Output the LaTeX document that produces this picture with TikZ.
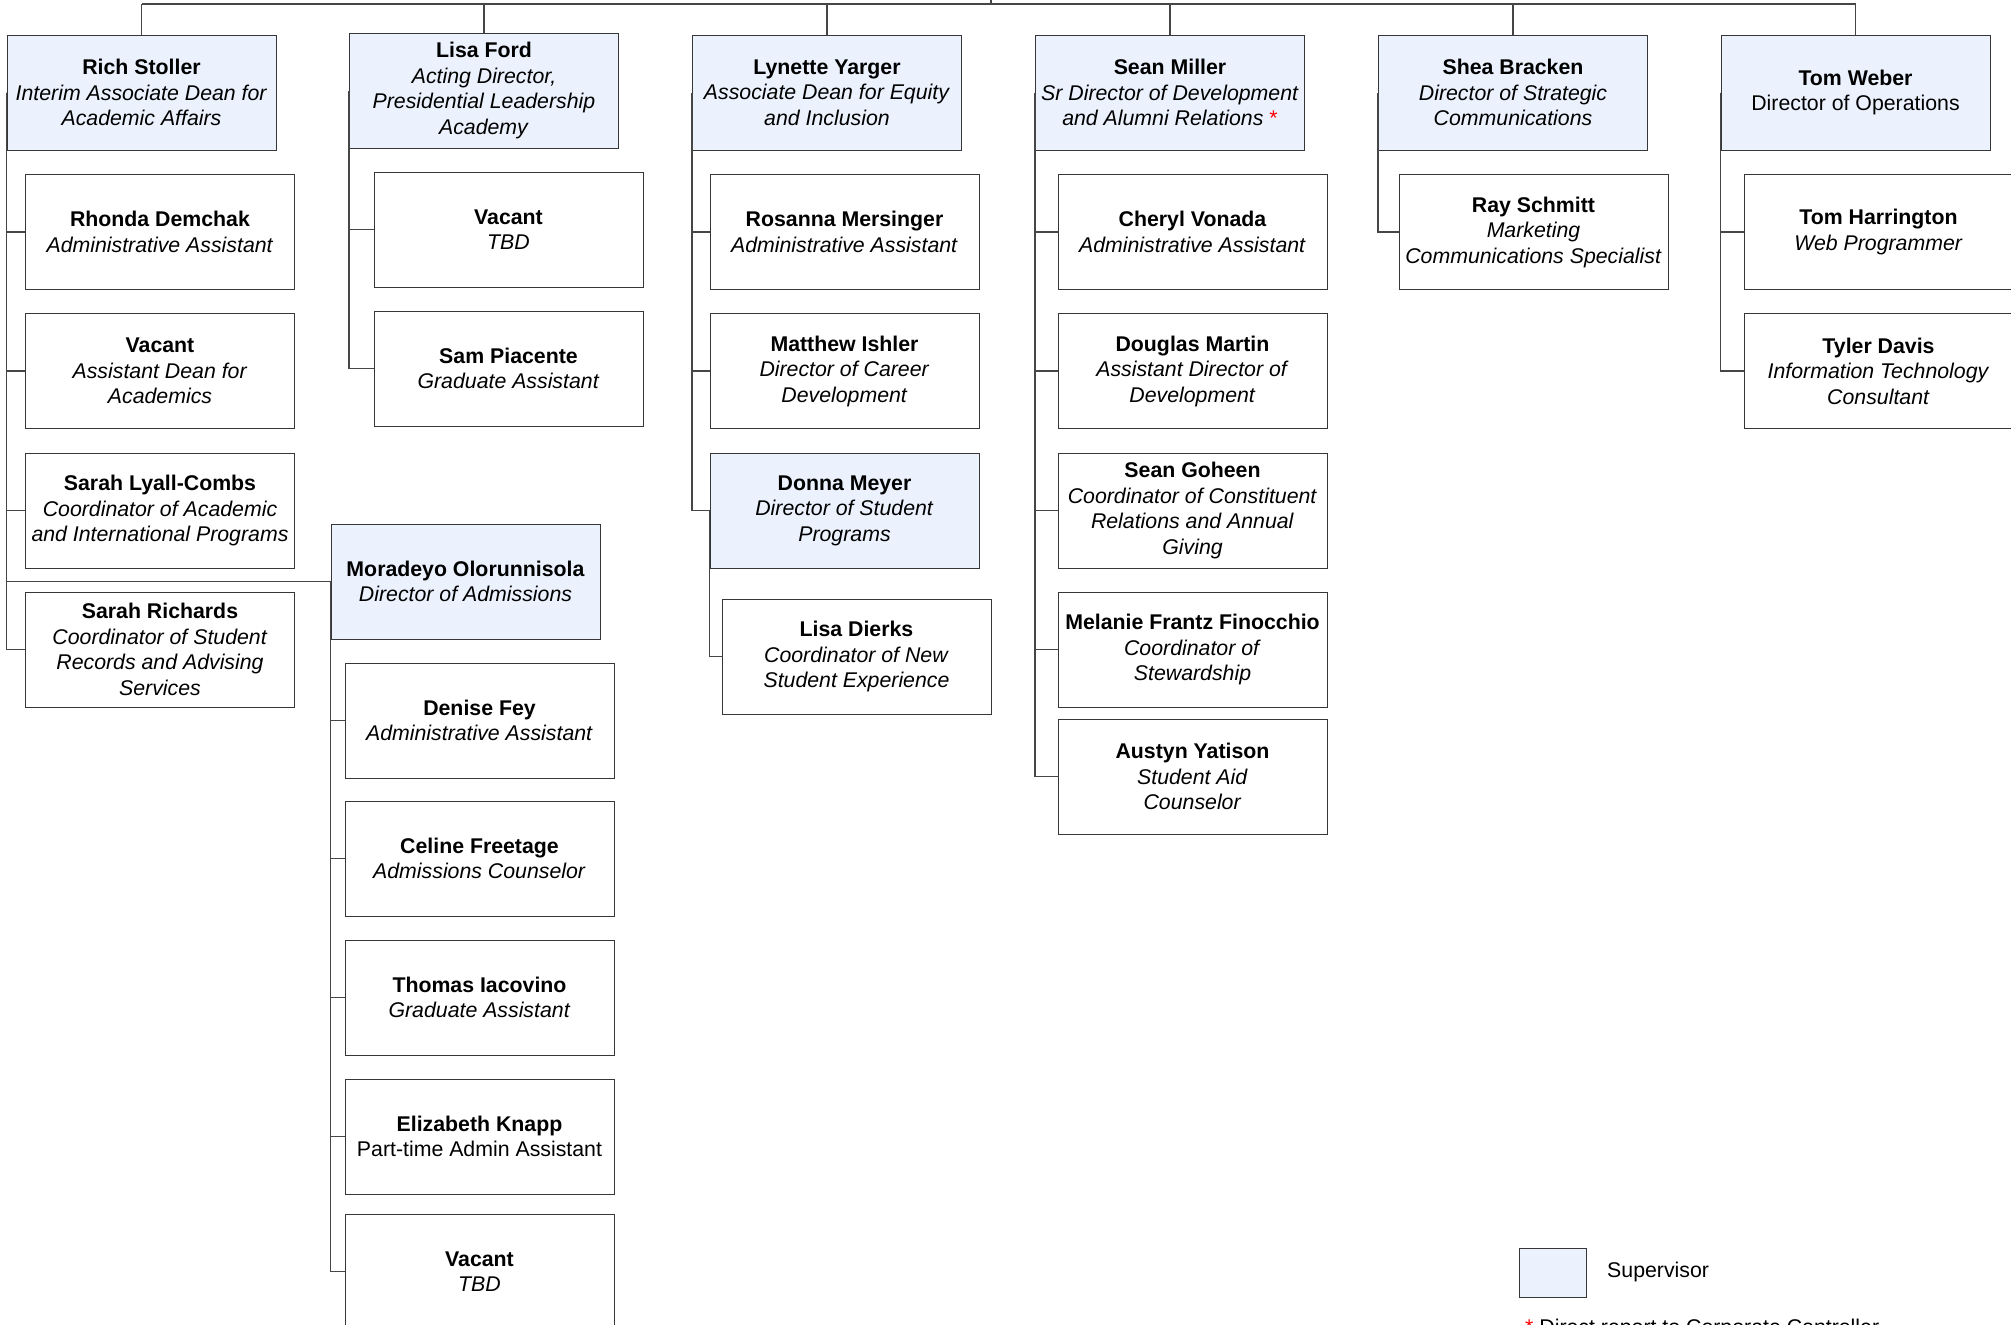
\documentclass[tikz,border=0pt]{standalone}
\usepackage{fontspec}
\setmainfont{Liberation Sans}
\definecolor{supblue}{RGB}{235,242,254}
\definecolor{boxline}{RGB}{55,55,55}
\definecolor{conn}{RGB}{70,70,70}
\begin{document}
\begin{tikzpicture}[x=1pt,y=-1pt,
  txt/.style={font=\fontsize{21.3}{25.5}\selectfont},
  person/.style={txt,draw=boxline,line width=1pt,minimum width=269pt,minimum height=115pt,inner sep=1pt,align=center,fill=white},
  sup/.style={person,fill=supblue},
  link/.style={draw=conn,line width=1.1pt}]
\clip (0,0) rectangle (2011,1325);
\fill[white] (0,0) rectangle (2011,1325);
\coordinate (bus) at (0,4);
\coordinate (root) at (991,-20);

% column 1
\node[sup] (rich) at (141.5,92.5) {\textbf{Rich Stoller}\\\textit{Interim Associate Dean for}\\\textit{Academic Affairs}};
\node[person] (rhonda) at (160,232) {\textbf{Rhonda Demchak}\\\textit{Administrative Assistant}};
\node[person] (vac1) at (160,371) {\textbf{Vacant}\\\textit{Assistant Dean for}\\\textit{Academics}};
\node[person] (slc) at (160,510.5) {\textbf{Sarah Lyall-Combs}\\\textit{Coordinator of Academic}\\\textit{and International Programs}};
\node[person] (sr) at (160,649.5) {\textbf{Sarah Richards}\\\textit{Coordinator of Student}\\\textit{Records and Advising}\\\textit{Services}};
\node[sup] (mor) at (465.5,581.5) {\textbf{Moradeyo Olorunnisola}\\\textit{Director of Admissions}};
\node[person] (denise) at (479.5,720.5) {\textbf{Denise Fey}\\\textit{Administrative Assistant}};
\node[person] (celine) at (479.5,858.5) {\textbf{Celine Freetage}\\\textit{Admissions Counselor}};
\node[person] (thomas) at (479.5,997.5) {\textbf{Thomas Iacovino}\\\textit{Graduate Assistant}};
\node[person] (eliz) at (479.5,1136.5) {\textbf{Elizabeth Knapp}\\Part-time Admin Assistant};
\node[person] (vac2) at (479.5,1271.5) {\textbf{Vacant}\\\textit{TBD}};

% column 2
\node[sup] (lisaf) at (484,90.5) {\textbf{Lisa Ford}\\\textit{Acting Director,}\\\textit{Presidential Leadership}\\\textit{Academy}};
\node[person] (vac3) at (508.5,229.5) {\textbf{Vacant}\\\textit{TBD}};
\node[person] (sam) at (508.5,368.5) {\textbf{Sam Piacente}\\\textit{Graduate Assistant}};

% column 3
\node[sup] (lyn) at (827,92.5) {\textbf{Lynette Yarger}\\\textit{Associate Dean for Equity}\\\textit{and Inclusion}};
\node[person] (ros) at (844.5,232) {\textbf{Rosanna Mersinger}\\\textit{Administrative Assistant}};
\node[person] (matt) at (844.5,371) {\textbf{Matthew Ishler}\\\textit{Director of Career}\\\textit{Development}};
\node[sup] (donna) at (844.5,510.5) {\textbf{Donna Meyer}\\\textit{Director of Student}\\\textit{Programs}};
\node[person] (dierks) at (856.5,656.5) {\textbf{Lisa Dierks}\\\textit{Coordinator of New}\\\textit{Student Experience}};

% column 4
\node[sup] (sean) at (1170,92.5) {\textbf{Sean Miller}\\\textit{Sr Director of Development}\\\textit{and Alumni Relations} {\color{red}*}};
\node[person] (cheryl) at (1192.5,232) {\textbf{Cheryl Vonada}\\\textit{Administrative Assistant}};
\node[person] (doug) at (1192.5,371) {\textbf{Douglas Martin}\\\textit{Assistant Director of}\\\textit{Development}};
\node[person] (goheen) at (1192.5,510.5) {\textbf{Sean Goheen}\\\textit{Coordinator of Constituent}\\\textit{Relations and Annual}\\\textit{Giving}};
\node[person] (mel) at (1192.5,649.5) {\textbf{Melanie Frantz Finocchio}\\\textit{Coordinator of}\\\textit{Stewardship}};
\node[person] (austyn) at (1192.5,776.5) {\textbf{Austyn Yatison}\\\textit{Student Aid}\\\textit{Counselor}};

% column 5
\node[sup] (shea) at (1513,92.5) {\textbf{Shea Bracken}\\\textit{Director of Strategic}\\\textit{Communications}};
\node[person] (ray) at (1533.5,232) {\textbf{Ray Schmitt}\\\textit{Marketing}\\\textit{Communications Specialist}};

% column 6
\node[sup] (tom) at (1855.5,92.5) {\textbf{Tom Weber}\\Director of Operations};
\node[person] (harr) at (1878.5,232) {\textbf{Tom Harrington}\\\textit{Web Programmer}};
\node[person] (tyler) at (1878.5,371) {\textbf{Tyler Davis}\\\textit{Information Technology}\\\textit{Consultant}};

% top bus
\draw[link] (rich.north |- bus) -- (tom.north |- bus);
\draw[link] (root) -- (root |- bus);
\foreach \n in {rich,lisaf,lyn,sean,shea,tom}
  \draw[link] (\n.north) -- (\n.north |- bus);

% reporting lines
\foreach \c in {rhonda,vac1,slc,sr,mor} \draw[link] (rich.west) |- (\c.west);
\foreach \c in {denise,celine,thomas,eliz,vac2} \draw[link] (mor.west) |- (\c.west);
\foreach \c in {vac3,sam} \draw[link] (lisaf.west) |- (\c.west);
\foreach \c in {ros,matt,donna} \draw[link] (lyn.west) |- (\c.west);
\draw[link] (donna.west) |- (dierks.west);
\foreach \c in {cheryl,doug,goheen,mel,austyn} \draw[link] (sean.west) |- (\c.west);
\draw[link] (shea.west) |- (ray.west);
\foreach \c in {harr,tyler} \draw[link] (tom.west) |- (\c.west);

% legend
\node[draw=boxline,fill=supblue,line width=1pt,minimum width=67pt,minimum height=49pt,inner sep=0pt] (legbox) at (1552.5,1272.5) {};
\node[txt,anchor=west,inner sep=0pt] (legtext) at (1607,1272) {Supervisor};
\node[txt,anchor=base west,inner sep=0pt] (note) at (1525,1334) {{\color{red}*} Direct report to Corporate Controller};
\end{tikzpicture}
\end{document}
